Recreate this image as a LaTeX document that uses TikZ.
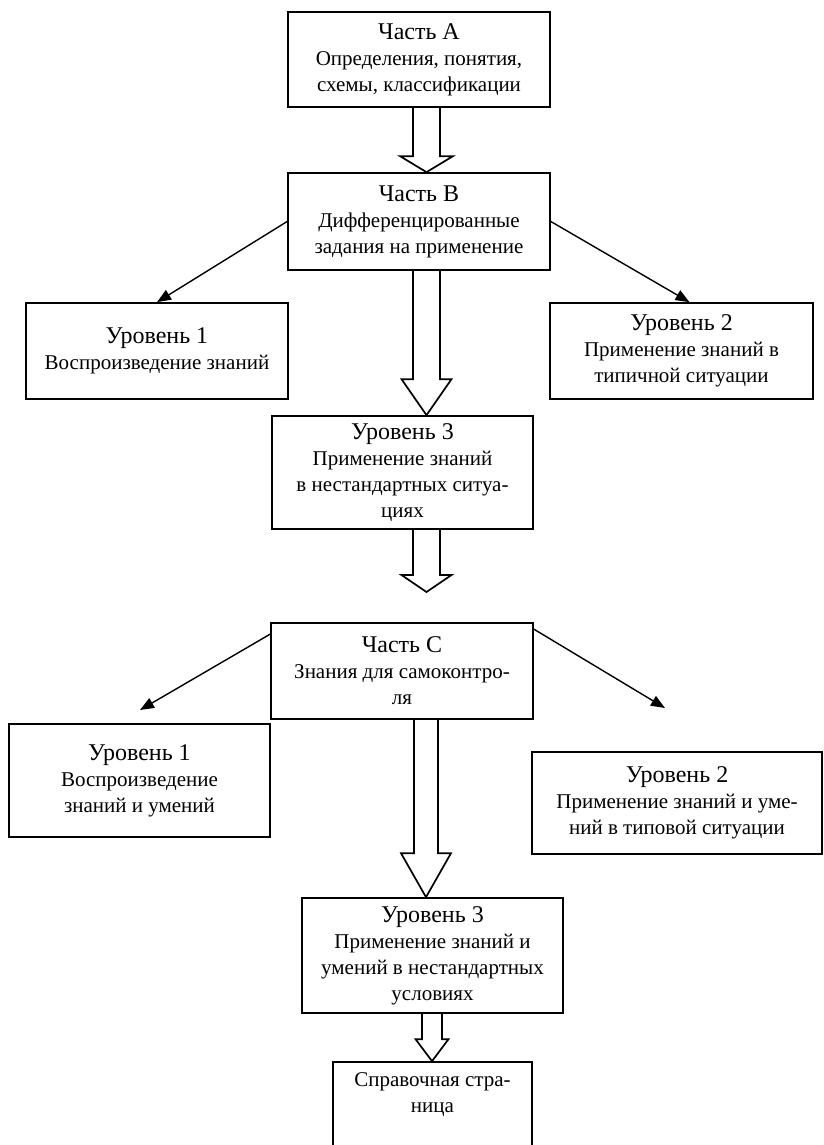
\documentclass[tikz,border=0pt]{standalone}
\usepackage{fontspec}
\setmainfont{Liberation Serif}
\usetikzlibrary{arrows.meta,calc}

\newcommand{\hd}[1]{{\fontsize{24}{28}\selectfont #1}}
% hollow block arrow: from, to, axis x, stem half width, head half width, head length
\newcommand{\fatarrow}[6]{%
  \draw[fat] let \p1=(#1), \p2=(#2) in
    ({(#3-#4)*1pt},\y1) -- ({(#3-#4)*1pt},\y2+#6pt) -- ({(#3-#5)*1pt},\y2+#6pt)
    -- ({#3*1pt},\y2) -- ({(#3+#5)*1pt},\y2+#6pt) -- ({(#3+#4)*1pt},\y2+#6pt)
    -- ({(#3+#4)*1pt},\y1);}

\begin{document}
\begin{tikzpicture}[x=1pt,y=-1pt,
  box/.style 2 args={draw,line width=1.7pt,minimum width=#1,minimum height=#2,inner sep=0pt,
    align=center,font=\fontsize{21}{26}\selectfont},
  branch/.style={-{Triangle[length=14pt,width=11pt]},line width=1.4pt},
  fat/.style={line width=1.7pt,line join=miter}]
  \useasboundingbox (0,0) rectangle (823,1145);
  \clip (0,0) rectangle (823,1145);
  % part A and part B
  \node[box={262}{95}] (partA) at (419,59.5) {\hd{Часть А}\\Определения, понятия,\\схемы, классификации};
  \node[box={262}{97}] (partB) at (419,221.5) {\hd{Часть В}\\Дифференцированные\\задания на применение};
  \fatarrow{partA.south}{partB.north}{426.5}{13.5}{26.5}{16}
  % levels of part B
  \node[box={262}{96}] (levB1) at (157,351) {\hd{Уровень 1}\\Воспроизведение знаний};
  \node[box={263}{96}] (levB2) at (681.5,351) {\hd{Уровень 2}\\Применение знаний в\\типичной ситуации};
  \node[box={261}{113}] (levB3) at (402.5,472.5) {\hd{Уровень 3}\\Применение знаний\\в нестандартных ситуа-\\циях};
  \draw[branch] (partB.west) -- (levB1.north);
  \draw[branch] (partB.east) -- ([xshift=8]levB2.north);
  \fatarrow{partB.south}{levB3.north}{426.5}{13.5}{25}{36}
  \coordinate (tipC) at (426.5,592);
  \fatarrow{levB3.south}{tipC}{426.5}{13.5}{25}{17}
  % part C and its levels
  \node[box={262}{96}] (partC) at (402,671) {\hd{Часть С}\\Знания для самоконтро-\\ля};
  \coordinate (tipC1) at (140,710);
  \coordinate (tipC2) at (665,708);
  \draw[branch] ([yshift=-12]partC.north west) -- (tipC1);
  \draw[branch] ([yshift=-7]partC.north east) -- (tipC2);
  \node[box={261}{113}] (levC1) at (139.5,780.5) {\hd{Уровень 1}\\Воспроизведение\\знаний и умений};
  \node[box={290}{102}] (levC2) at (677,803) {\hd{Уровень 2}\\Применение знаний и уме-\\ний в типовой ситуации};
  \node[box={261}{115}] (levC3) at (432.5,955.5) {\hd{Уровень 3}\\Применение знаний и\\умений в нестандартных\\условиях};
  \fatarrow{partC.south}{levC3.north}{426}{12}{25}{44}
  % reference page, cut by the page edge
  \node[box={199}{120}] (refpage) at (432.5,1122) {Справочная стра-\\ница\\[33pt]\mbox{}};
  \fatarrow{levC3.south}{refpage.north}{432}{10}{16.5}{22}
\end{tikzpicture}
\end{document}
